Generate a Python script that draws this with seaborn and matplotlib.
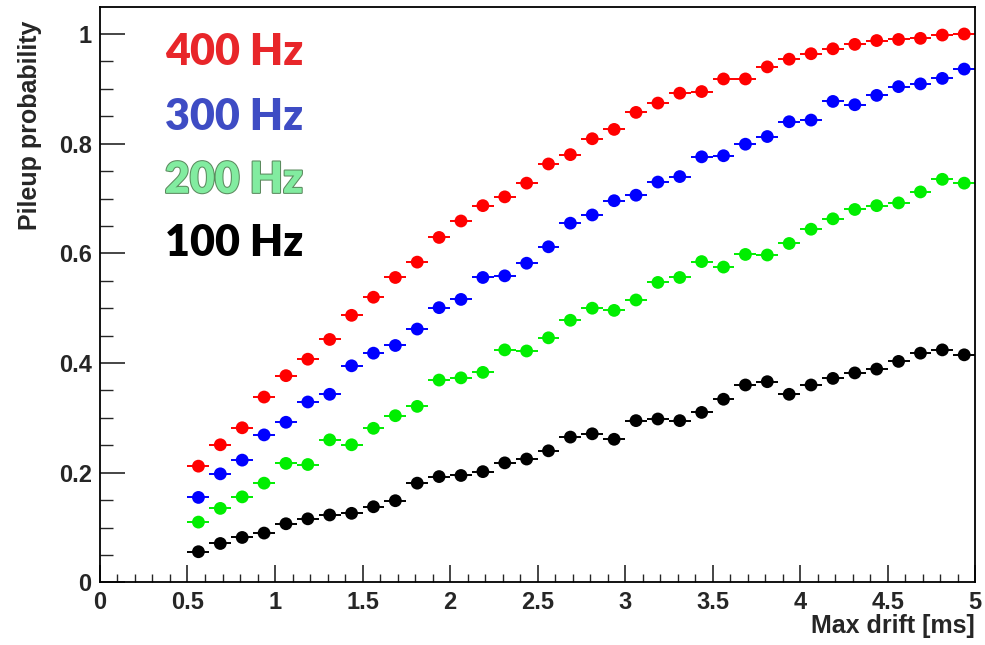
import numpy as np
import pandas as pd
import matplotlib
matplotlib.use("Agg")
import matplotlib.pyplot as plt
import matplotlib.patheffects as pe
from matplotlib.ticker import MultipleLocator
import seaborn as sns

# bin centres of the drift histogram (width 0.125 ms)
drift = [0.5625, 0.6875, 0.8125, 0.9375, 1.0625, 1.1875, 1.3125, 1.4375, 1.5625,
         1.6875, 1.8125, 1.9375, 2.0625, 2.1875, 2.3125, 2.4375, 2.5625, 2.6875,
         2.8125, 2.9375, 3.0625, 3.1875, 3.3125, 3.4375, 3.5625, 3.6875, 3.8125,
         3.9375, 4.0625, 4.1875, 4.3125, 4.4375, 4.5625, 4.6875, 4.8125, 4.9375]
half_bin = 0.0625

p400 = [0.212, 0.251, 0.282, 0.338, 0.377, 0.407, 0.443, 0.487, 0.520, 0.556, 0.584, 0.629,
        0.659, 0.687, 0.703, 0.728, 0.763, 0.780, 0.809, 0.826, 0.857, 0.874, 0.892, 0.895,
        0.918, 0.918, 0.940, 0.954, 0.964, 0.973, 0.981, 0.988, 0.990, 0.992, 0.998, 1.000]
p300 = [0.155, 0.198, 0.223, 0.269, 0.292, 0.329, 0.343, 0.395, 0.418, 0.432, 0.462, 0.501,
        0.516, 0.556, 0.559, 0.582, 0.612, 0.655, 0.670, 0.696, 0.706, 0.730, 0.740, 0.776,
        0.778, 0.799, 0.813, 0.840, 0.843, 0.877, 0.871, 0.888, 0.904, 0.909, 0.919, 0.936]
p200 = [0.110, 0.135, 0.156, 0.181, 0.217, 0.215, 0.260, 0.251, 0.281, 0.304, 0.321, 0.369,
        0.373, 0.383, 0.424, 0.422, 0.446, 0.478, 0.500, 0.496, 0.515, 0.547, 0.556, 0.585,
        0.575, 0.598, 0.597, 0.618, 0.644, 0.663, 0.680, 0.687, 0.692, 0.712, 0.735, 0.728]
p100 = [0.056, 0.071, 0.082, 0.090, 0.107, 0.116, 0.123, 0.126, 0.138, 0.149, 0.181, 0.193,
        0.195, 0.202, 0.218, 0.225, 0.240, 0.265, 0.271, 0.261, 0.295, 0.298, 0.295, 0.310,
        0.334, 0.360, 0.366, 0.343, 0.360, 0.372, 0.382, 0.389, 0.403, 0.418, 0.424, 0.415]
stat_err = 0.008

rates = ["400 Hz", "300 Hz", "200 Hz", "100 Hz"]
marker_colors = ["#ff0000", "#0000ff", "#00ee00", "#000000"]
text_colors = ["#e8262a", "#3e4cc4", "#82eca0", "#000000"]

df = pd.concat([
    pd.DataFrame({"drift": drift, "prob": vals, "rate": r})
    for r, vals in zip(rates, [p400, p300, p200, p100])
])

sns.set_style("ticks")
fig = plt.figure(figsize=(9.85, 6.45), dpi=100)
ax = fig.add_axes([0.1015, 0.097, 0.8885, 0.892])

for r, c in zip(rates, marker_colors):
    sub = df[df["rate"] == r]
    ax.errorbar(sub["drift"], sub["prob"], xerr=half_bin, yerr=stat_err,
                fmt="none", ecolor=c, elinewidth=1.4, capsize=0, zorder=2)

sns.scatterplot(data=df, x="drift", y="prob", hue="rate", palette=marker_colors,
                s=85, edgecolor="none", legend=False, ax=ax, zorder=3)

ax.set_xlim(0, 5)
ax.set_ylim(0, 1.049)
ax.xaxis.set_minor_locator(MultipleLocator(0.1))
ax.yaxis.set_minor_locator(MultipleLocator(0.05))
ax.set_xticks(np.arange(0, 5.01, 0.5))
ax.set_xticklabels(["0", "0.5", "1", "1.5", "2", "2.5", "3", "3.5", "4", "4.5", "5"])
ax.set_yticks(np.arange(0, 1.01, 0.2))
ax.set_yticklabels(["0", "0.2", "0.4", "0.6", "0.8", "1"])

ax.tick_params(axis="x", which="major", direction="in", length=12, width=1.2, pad=6)
ax.tick_params(axis="x", which="minor", direction="in", length=6, width=1.0)
ax.tick_params(axis="y", which="major", direction="in", length=18, width=1.2, pad=6)
ax.tick_params(axis="y", which="minor", direction="in", length=9, width=1.0)
for lab in ax.get_xticklabels() + ax.get_yticklabels():
    lab.set_fontfamily("Liberation Sans")
    lab.set_fontweight("bold")
    lab.set_fontsize(17)
for sp in ax.spines.values():
    sp.set_linewidth(1.3)
    sp.set_color("black")

ax.set_xlabel("Max drift [ms]", fontsize=18, fontweight="bold",
              family="Liberation Sans", loc="right", labelpad=0)
ax.set_ylabel("Pileup probability", fontsize=18, fontweight="bold",
              family="Liberation Sans", ha="right")
ax.yaxis.set_label_coords(-0.066, 0.977)

label_y = [0.967, 0.849, 0.734, 0.619]
for r, c, yy in zip(rates, text_colors, label_y):
    t = ax.text(0.37, yy, r, color=c, fontsize=31, fontweight="heavy",
                family="Lato", va="center", ha="left")
    if r == "200 Hz":
        t.set_path_effects([pe.withStroke(linewidth=1.5, foreground="#5b8a5e")])

fig.savefig("out.png", dpi=100, facecolor="white")
